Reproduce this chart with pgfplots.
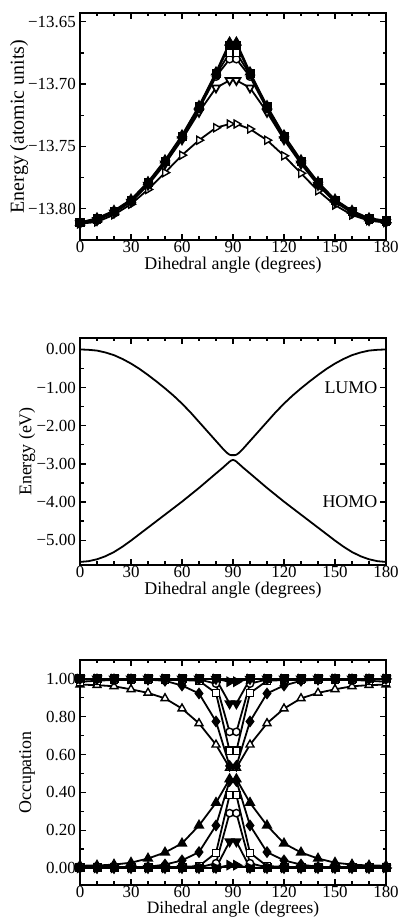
\documentclass[border=0pt]{standalone}
\usepackage{fontspec}
\setmainfont{Liberation Serif}
\usepackage{pgfplots}
\usepackage{pgfplotstable}
\pgfplotsset{compat=1.18}

% Total energies along the torsion (atomic units)
\pgfplotstableread{
x   s1       s2       s3       s4       s5       s6
0   -13.8110 -13.8110 -13.8112 -13.8115 -13.8118 -13.8120
10  -13.8075 -13.8080 -13.8085 -13.8088 -13.8092 -13.8105
20  -13.8015 -13.8020 -13.8025 -13.8028 -13.8032 -13.8048
30  -13.7925 -13.7930 -13.7935 -13.7938 -13.7945 -13.7963
40  -13.7785 -13.7790 -13.7795 -13.7800 -13.7810 -13.7845
50  -13.7610 -13.7617 -13.7622 -13.7628 -13.7640 -13.7710
60  -13.7410 -13.7419 -13.7425 -13.7432 -13.7445 -13.7570
70  -13.7175 -13.7183 -13.7190 -13.7200 -13.7225 -13.7450
80  -13.6905 -13.6915 -13.6925 -13.6940 -13.7030 -13.7350
88  -13.6665 -13.6690 -13.6750 -13.6800 -13.6970 -13.7320
92  -13.6665 -13.6690 -13.6750 -13.6800 -13.6970 -13.7320
100 -13.6905 -13.6915 -13.6925 -13.6940 -13.7030 -13.7360
110 -13.7175 -13.7183 -13.7190 -13.7200 -13.7225 -13.7450
120 -13.7410 -13.7419 -13.7425 -13.7432 -13.7445 -13.7575
130 -13.7610 -13.7617 -13.7622 -13.7628 -13.7640 -13.7715
140 -13.7785 -13.7790 -13.7795 -13.7800 -13.7810 -13.7855
150 -13.7925 -13.7930 -13.7935 -13.7938 -13.7945 -13.7970
160 -13.8015 -13.8020 -13.8025 -13.8028 -13.8032 -13.8050
170 -13.8075 -13.8080 -13.8085 -13.8088 -13.8092 -13.8095
180 -13.8095 -13.8097 -13.8100 -13.8105 -13.8108 -13.8110
}\energytable

% Frontier orbital energies (eV)
\pgfplotstableread{
x    lumo   homo
0    0.00  -5.57
5   -0.01  -5.55
10  -0.03  -5.50
15  -0.08  -5.42
20  -0.15  -5.31
25  -0.25  -5.17
30  -0.37  -5.01
35  -0.51  -4.84
40  -0.67  -4.67
45  -0.84  -4.50
50  -1.02  -4.33
55  -1.21  -4.16
60  -1.42  -3.99
65  -1.65  -3.81
70  -1.90  -3.63
75  -2.15  -3.44
80  -2.40  -3.25
84  -2.60  -3.10
86  -2.69  -3.02
87  -2.73  -2.98
88  -2.76  -2.94
89  -2.77  -2.91
90  -2.77  -2.895
91  -2.77  -2.91
92  -2.76  -2.94
93  -2.73  -2.98
94  -2.69  -3.02
96  -2.60  -3.10
100 -2.40  -3.25
105 -2.15  -3.44
110 -1.90  -3.63
115 -1.65  -3.81
120 -1.42  -3.99
125 -1.21  -4.16
130 -1.02  -4.33
135 -0.84  -4.50
140 -0.67  -4.67
145 -0.51  -4.84
150 -0.37  -5.01
155 -0.25  -5.17
160 -0.15  -5.31
165 -0.08  -5.42
170 -0.03  -5.50
175 -0.01  -5.55
180  0.00  -5.57
}\orbitaltable

% Natural orbital occupations (upper / lower member of each pair)
\pgfplotstableread{
x   Tu    Tl    Du    Dl    Qu    Ql    Cu    Cl    Vu    Vl    Ru    Rl
0   0.970 0.012 0.998 0.003 0.985 0.005 0.998 0.002 1.000 0.000 1.000 0.000
10  0.967 0.013 0.998 0.003 0.990 0.005 0.998 0.002 1.000 0.000 1.000 0.000
20  0.961 0.018 0.998 0.003 0.995 0.005 0.998 0.002 1.000 0.000 1.000 0.000
30  0.945 0.028 0.998 0.004 0.995 0.005 0.998 0.002 1.000 0.000 1.000 0.000
40  0.926 0.050 0.996 0.006 0.995 0.005 0.998 0.002 1.000 0.000 1.000 0.000
50  0.897 0.082 0.990 0.018 0.995 0.005 0.998 0.002 1.000 0.000 1.000 0.000
60  0.843 0.130 0.965 0.040 0.994 0.006 0.998 0.002 1.000 0.000 1.000 0.000
70  0.765 0.225 0.923 0.084 0.990 0.010 0.997 0.003 1.000 0.000 1.000 0.000
80  0.652 0.345 0.775 0.225 0.925 0.080 0.975 0.025 0.999 0.001 1.000 0.000
88  0.530 0.470 0.540 0.460 0.620 0.385 0.720 0.290 0.870 0.140 0.985 0.015
92  0.530 0.470 0.540 0.460 0.620 0.385 0.720 0.290 0.870 0.140 0.985 0.015
100 0.652 0.345 0.775 0.225 0.925 0.080 0.975 0.025 0.999 0.001 1.000 0.000
110 0.765 0.225 0.923 0.084 0.990 0.010 0.997 0.003 1.000 0.000 1.000 0.000
120 0.843 0.130 0.965 0.040 0.994 0.006 0.998 0.002 1.000 0.000 1.000 0.000
130 0.897 0.082 0.990 0.018 0.995 0.005 0.998 0.002 1.000 0.000 1.000 0.000
140 0.926 0.050 0.996 0.006 0.995 0.005 0.998 0.002 1.000 0.000 1.000 0.000
150 0.945 0.028 0.998 0.004 0.995 0.005 0.998 0.002 1.000 0.000 1.000 0.000
160 0.961 0.018 0.998 0.003 0.995 0.005 0.998 0.002 1.000 0.000 1.000 0.000
170 0.967 0.013 0.998 0.003 0.990 0.005 0.998 0.002 1.000 0.000 1.000 0.000
180 0.970 0.012 0.998 0.003 0.985 0.005 0.998 0.002 1.000 0.000 1.000 0.000
}\occtable

\pgfplotstableread{
x   up    low
0   1.000 0.003
10  1.000 0.003
20  1.000 0.003
30  1.000 0.003
40  1.000 0.003
50  1.000 0.003
60  1.000 0.003
70  1.000 0.003
80  1.000 0.003
100 1.000 0.003
110 1.000 0.003
120 1.000 0.003
130 1.000 0.003
140 1.000 0.003
150 1.000 0.003
160 1.000 0.003
170 1.000 0.003
180 1.000 0.003
}\occsquares

\newcommand\labfont{\fontsize{18}{20}\selectfont}

\pgfplotsset{
  dihedral/.style={
    scale only axis, width=306bp,
    xmin=0, xmax=180,
    xtick={0,30,...,180}, xticklabels={0,30,60,90,120,150,180},
    minor x tick num=2, minor y tick num=1,
    tick align=inside, tick pos=both,
    major tick length=6bp, minor tick length=3.5bp,
    axis line style={line width=1.8bp},
    every tick/.style={black, line width=1.3bp},
    tick label style={font=\fontsize{17}{19}\selectfont},
    xticklabel style={inner sep=1bp},
    yticklabel style={inner sep=4bp},
    xlabel={Dihedral angle (degrees)},
    every axis plot/.append style={line width=1.8bp, black},
  },
  mfs/.style={mark=square*, mark size=3.6bp, mark options={solid, fill=black}},
  mft/.style={mark=triangle*, mark size=4.6bp, mark options={solid, fill=black}},
  mfd/.style={mark=diamond*, mark size=4.6bp, mark options={solid, fill=black}},
  mos/.style={mark=square*, mark size=3.6bp, mark options={solid, fill=white, line width=1.4bp}},
  moc/.style={mark=*, mark size=3.7bp, mark options={solid, fill=white, line width=1.4bp}},
  mot/.style={mark=triangle*, mark size=4.6bp, mark options={solid, fill=white, line width=1.4bp}},
  modt/.style={mark=triangle*, mark size=4.6bp, mark options={solid, fill=white, line width=1.8bp, rotate=180}},
  mfdt/.style={mark=triangle*, mark size=4.6bp, mark options={solid, fill=black, rotate=180}},
  mort/.style={mark=triangle*, mark size=4.6bp, mark options={solid, fill=white, line width=1.4bp, rotate=-90}},
  mfrt/.style={mark=triangle*, mark size=4.6bp, mark options={solid, fill=black, rotate=-90}},
}

\begin{document}
\begin{tikzpicture}
\path[use as bounding box] (0,0) rectangle (406bp,922bp);

% --- total energy ---
\begin{axis}[dihedral,
  at={(80bp,682bp)}, anchor=south west, height=227bp,
  ymin=-13.825, ymax=-13.643,
  ytick={-13.80,-13.75,-13.70,-13.65},
  yticklabels={−13.80,−13.75,−13.70,−13.65},
  ylabel={Energy (atomic units)},
  ylabel style={at={(axis description cs:-0.199,0.5)}, rotate=0, anchor=center, font=\fontsize{20}{22}\selectfont},
  xlabel style={at={(axis description cs:0.5,0)}, anchor=north, inner sep=0pt, yshift=-16.5bp, font=\labfont},
]
\addplot[mort] table[x=x, y=s6] {\energytable};
\addplot[modt] table[x=x, y=s5] {\energytable};
\addplot[moc]  table[x=x, y=s4] {\energytable};
\addplot[mos]  table[x=x, y=s3] {\energytable};
\addplot[mfs]  table[x=x, y=s2] {\energytable};
\addplot[mft]  table[x=x, y=s1] {\energytable};
\end{axis}

% --- frontier orbitals ---
\begin{axis}[dihedral,
  at={(80bp,357bp)}, anchor=south west, height=227bp,
  ymin=-5.65, ymax=0.30,
  ytick={-5,-4,-3,-2,-1,0},
  yticklabels={−5.00,−4.00,−3.00,−2.00,−1.00,0.00},
  ylabel={Energy (eV)},
  ylabel style={at={(axis description cs:-0.173,0.5)}, rotate=0, anchor=center, font=\labfont},
  xlabel style={at={(axis description cs:0.5,0)}, anchor=north, inner sep=0pt, yshift=-16.5bp, font=\labfont},
]
\addplot[no marks] table[x=x, y=lumo] {\orbitaltable};
\addplot[no marks] table[x=x, y=homo] {\orbitaltable};
\node[anchor=east, font=\labfont, inner sep=0pt] at (axis cs:175,-1.0) {LUMO};
\node[anchor=east, font=\labfont, inner sep=0pt] at (axis cs:175,-4.0) {HOMO};
\end{axis}

% --- occupations ---
\begin{axis}[dihedral,
  at={(80bp,37bp)}, anchor=south west, height=225bp,
  ymin=-0.09, ymax=1.10,
  ytick={0,0.2,0.4,0.6,0.8,1.0},
  yticklabels={0.00,0.20,0.40,0.60,0.80,1.00},
  ylabel={Occupation},
  ylabel style={at={(axis description cs:-0.173,0.5)}, rotate=0, anchor=center, font=\labfont},
  xlabel style={at={(axis description cs:0.5,0)}, anchor=north, inner sep=0pt, yshift=-16bp, font=\fontsize{17.5}{19}\selectfont},
]
\addplot[mfs]  table[x=x, y=up]  {\occsquares};
\addplot[mfs]  table[x=x, y=low] {\occsquares};
\addplot[mot]  table[x=x, y=Tu] {\occtable};
\addplot[mft]  table[x=x, y=Tl] {\occtable};
\addplot[mfd]  table[x=x, y=Du] {\occtable};
\addplot[mfd]  table[x=x, y=Dl] {\occtable};
\addplot[mos]  table[x=x, y=Qu] {\occtable};
\addplot[mos]  table[x=x, y=Ql] {\occtable};
\addplot[moc]  table[x=x, y=Cu] {\occtable};
\addplot[moc]  table[x=x, y=Cl] {\occtable};
\addplot[mfdt] table[x=x, y=Vu] {\occtable};
\addplot[mfdt] table[x=x, y=Vl] {\occtable};
\addplot[mfrt] table[x=x, y=Ru] {\occtable};
\addplot[mfrt] table[x=x, y=Rl] {\occtable};
\end{axis}
\end{tikzpicture}
\end{document}
